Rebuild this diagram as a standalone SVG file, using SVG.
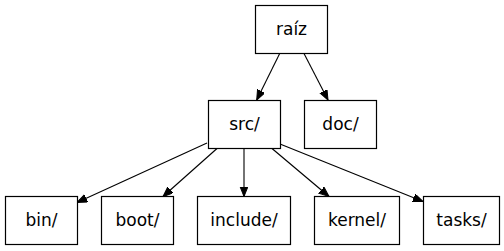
<svg xmlns="http://www.w3.org/2000/svg" width="504" height="251" viewBox="0 0 504 251">
  <style>
    .node rect { fill: #ffffff; stroke: #000000; stroke-width: 1.2; }
    .node text { font-family: "DejaVu Sans", sans-serif; font-size: 17px; fill: #000000; text-anchor: middle; }
    .edge { fill: none; stroke: #000000; stroke-width: 1.1; marker-end: url(#arrow); }
  </style>
  <defs>
    <marker id="arrow" markerUnits="userSpaceOnUse" markerWidth="12" markerHeight="10" refX="10" refY="4" orient="auto">
      <polygon points="0,0 10,4 0,8" fill="#000000" stroke="#000000" stroke-width="1"/>
    </marker>
  </defs>
  <rect width="504" height="251" fill="#ffffff"/>

  <!-- connectors -->
  <g id="edges">
    <line class="edge" x1="279.7" y1="53.5" x2="256.7" y2="100"/>
    <line class="edge" x1="304" y1="53.5" x2="328" y2="100"/>
    <line class="edge" x1="207" y1="143" x2="77" y2="202.5"/>
    <line class="edge" x1="217" y1="148.5" x2="163" y2="196.5"/>
    <line class="edge" x1="244" y1="148.5" x2="244" y2="196.5"/>
    <line class="edge" x1="272" y1="148.5" x2="329" y2="196.5"/>
    <line class="edge" x1="280" y1="144" x2="423" y2="201.5"/>
  </g>

  <!-- nodes -->
  <g id="raiz" class="node">
    <rect x="255.5" y="5.5" width="72" height="48"/>
    <text x="291.5" y="35">raíz</text>
  </g>
  <g id="src" class="node">
    <rect x="208.5" y="100.5" width="72" height="48"/>
    <text x="244.5" y="130">src/</text>
  </g>
  <g id="doc" class="node">
    <rect x="304.5" y="100.5" width="72" height="48"/>
    <text x="340.5" y="130">doc/</text>
  </g>
  <g id="bin" class="node">
    <rect x="5.5" y="196.5" width="72" height="48"/>
    <text x="41.5" y="226">bin/</text>
  </g>
  <g id="boot" class="node">
    <rect x="101.5" y="196.5" width="72" height="48"/>
    <text x="137.5" y="226">boot/</text>
  </g>
  <g id="include" class="node">
    <rect x="197.5" y="196.5" width="93" height="48"/>
    <text x="244" y="226">include/</text>
  </g>
  <g id="kernel" class="node">
    <rect x="314.5" y="196.5" width="85" height="48"/>
    <text x="357" y="226">kernel/</text>
  </g>
  <g id="tasks" class="node">
    <rect x="423.5" y="196.5" width="76" height="48"/>
    <text x="461.5" y="226">tasks/</text>
  </g>
</svg>
